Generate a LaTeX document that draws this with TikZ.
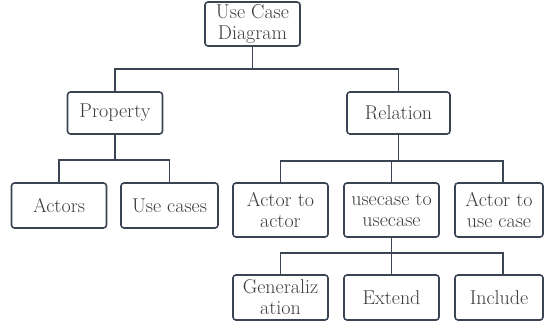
\documentclass[tikz,border=0pt]{standalone}
\usepackage{tikz}
\usetikzlibrary{positioning}
\definecolor{boxline}{RGB}{58,68,82}
\definecolor{boxtext}{RGB}{60,60,60}
\tikzset{
  item/.style={draw=boxline, line width=1.6pt, rounded corners=3pt, align=center,
    text=boxtext, inner sep=0pt, minimum width=95pt, minimum height=44pt,
    font=\rmfamily\fontsize{20}{21}\selectfont},
  link/.style={draw=boxline, line width=1.6pt}
}

\begin{document}
\begin{tikzpicture}[x=1pt,y=-1pt]
        \useasboundingbox (0,0) rectangle (546,324);
        % Nodes
        \node[item]                           (root)  at (252.5,24)  {Use Case\\Diagram};
        \node[item, minimum height=42pt]      (prop)  at (115,113)   {Property};
        \node[item, minimum width=103pt, minimum height=42pt] (rel) at (398.5,113) {Relation};
        \node[item, minimum height=45pt]      (act)   at (59,205.5)  {Actors};
        \node[item, minimum width=97pt, minimum height=45pt]  (uc) at (169.5,205.5) {Use cases};
        \node[item, minimum height=54pt]      (a2a)   at (280.5,210) {Actor to\\actor};
        \node[item, minimum height=54pt]      (u2u)   at (391.5,210) {usecase to\\usecase};
        \node[item, minimum width=88pt, minimum height=54pt]  (a2u) at (499,210) {Actor to\\use case};
        \node[item, minimum height=45pt]      (gen)   at (280.5,297.5) {Generaliz\\ation};
        \node[item, minimum height=45pt]      (ext)   at (391.5,297.5) {Extend};
        \node[item, minimum width=88pt, minimum height=45pt]  (inc) at (499,297.5) {Include};
        % Connectors
        \draw[link] (root.south) -- ++(0,22) -| (prop.north);
        \draw[link] (root.south) -- ++(0,22) -| (rel.north);
        \draw[link] (prop.south) -- ++(0,25) -| (act.north);
        \draw[link] (prop.south) -- ++(0,25) -| (uc.north);
        \draw[link] (rel.south) -- ++(0,26) -| (a2a.north);
        \draw[link] (rel.south) -- ++(0,26) -| (u2u.north);
        \draw[link] (rel.south) -- ++(0,26) -| ([xshift=4pt]a2u.north);
        \draw[link] (u2u.south) -- ++(0,15) -| (gen.north);
        \draw[link] (u2u.south) -- ++(0,15) -| (ext.north);
        \draw[link] (u2u.south) -- ++(0,15) -| ([xshift=4pt]inc.north);
    \end{tikzpicture}
\end{document}
